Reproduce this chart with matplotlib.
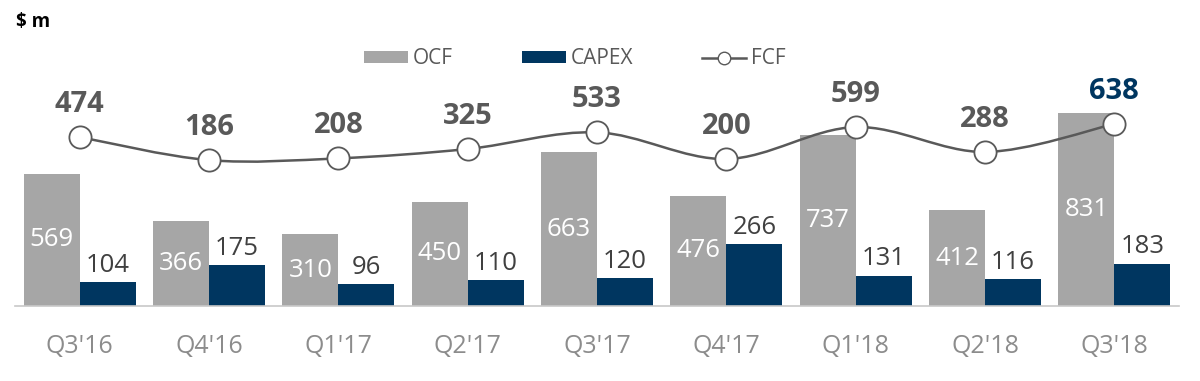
import numpy as np
import matplotlib
matplotlib.use("Agg")
import matplotlib.pyplot as plt
from matplotlib.path import Path
from matplotlib.patches import PathPatch, Patch
from matplotlib.lines import Line2D

plt.rcParams["font.family"] = ["Open Sans", "DejaVu Sans"]

# Data
quarters = ["Q3'16", "Q4'16", "Q1'17", "Q2'17", "Q3'17", "Q4'17", "Q1'18", "Q2'18", "Q3'18"]
ocf = [569, 366, 310, 450, 663, 476, 737, 412, 831]
capex = [104, 175, 96, 110, 120, 266, 131, 116, 183]
fcf = [474, 186, 208, 325, 533, 200, 599, 288, 638]

# Colours
gray_bar = "#a6a6a6"
navy = "#003660"
line_gray = "#595959"
label_gray = "#404040"
tick_gray = "#8c8c8c"

W, H = 1200, 381
fig = plt.figure(figsize=(W / 100, H / 100), dpi=100)

# Axes geometry in pixels
left_px, right_px = 15, 1179
base_px, top_px = 306, 20
ax = fig.add_axes([left_px / W, (H - base_px) / H, (right_px - left_px) / W, (base_px - top_px) / H])

px_per_unit = 0.232
ax.set_ylim(0, (base_px - top_px) / px_per_unit)
ax.set_xlim(-0.5, len(quarters) - 0.5)

x = np.arange(len(quarters))
bw = 0.433
ax.bar(x - bw / 2, ocf, width=bw, color=gray_bar, zorder=2)
ax.bar(x + bw / 2, capex, width=bw, color=navy, zorder=2)

for xi, v in zip(x, ocf):
    ax.text(xi - bw / 2, v / 2, str(v), ha="center", va="center", color="white", fontsize=18.5, zorder=3)
for xi, v in zip(x, capex):
    ax.annotate(str(v), (xi + bw / 2, v), xytext=(0, 3), textcoords="offset points",
                ha="center", va="bottom", color=label_gray, fontsize=18.5, zorder=3)

# Spines / ticks
for s in ["top", "right", "left"]:
    ax.spines[s].set_visible(False)
ax.spines["bottom"].set_color("#c8c8c8")
ax.spines["bottom"].set_linewidth(1.2)
ax.set_yticks([])
ax.set_xticks(x)
ax.set_xticklabels(quarters, fontsize=18, color=tick_gray)
ax.tick_params(axis="x", length=0, pad=20)

# FCF on a secondary scale
ax2 = ax.twinx()
ax2.set_xlim(ax.get_xlim())
fcf_zero_px = 131
fcf_scale = 0.08
ax2.set_ylim(-fcf_zero_px / fcf_scale, ((base_px - top_px) - fcf_zero_px) / fcf_scale)
ax2.axis("off")

# smooth line (Catmull-Rom as bezier)
pts = np.column_stack([x, fcf]).astype(float)
ext = np.vstack([pts[0], pts, pts[-1]])
verts = [tuple(pts[0])]
codes = [Path.MOVETO]
for i in range(len(pts) - 1):
    p0, p1, p2, p3 = ext[i], ext[i + 1], ext[i + 2], ext[i + 3]
    c1 = p1 + (p2 - p0) / 6
    c2 = p2 - (p3 - p1) / 6
    verts += [tuple(c1), tuple(c2), tuple(p2)]
    codes += [Path.CURVE4] * 3
ax2.add_patch(PathPatch(Path(verts, codes), facecolor="none", edgecolor=line_gray, lw=1.8, zorder=4))
ax2.plot(x, fcf, linestyle="none", marker="o", markersize=16, markerfacecolor="white",
         markeredgecolor=line_gray, markeredgewidth=1.3, zorder=5)

for i, (xi, v) in enumerate(zip(x, fcf)):
    c = navy if i == len(fcf) - 1 else line_gray
    ax2.annotate(str(v), (xi, v), xytext=(0, 13), textcoords="offset points",
                 ha="center", va="bottom", fontsize=21, fontweight="bold", color=c, zorder=6)

# Unit label
fig.text(16 / W, 1 - 22 / H, "$ m", fontsize=13.5, fontweight="bold", color="black", va="center", ha="left")

# Legend
handles = [
    Patch(facecolor=gray_bar, edgecolor="none"),
    Patch(facecolor=navy, edgecolor="none"),
    Line2D([0], [0], color=line_gray, lw=1.8, marker="o", markersize=9,
           markerfacecolor="white", markeredgecolor=line_gray),
]
leg = fig.legend(handles, ["OCF", "CAPEX", "FCF"], loc="center", bbox_to_anchor=(575 / W, 1 - 59 / H),
                 ncol=3, frameon=False, fontsize=15, handlelength=2.1, handleheight=0.5,
                 handletextpad=0.25, columnspacing=3.3, labelcolor=line_gray)

fig.savefig("out.png", dpi=100)
